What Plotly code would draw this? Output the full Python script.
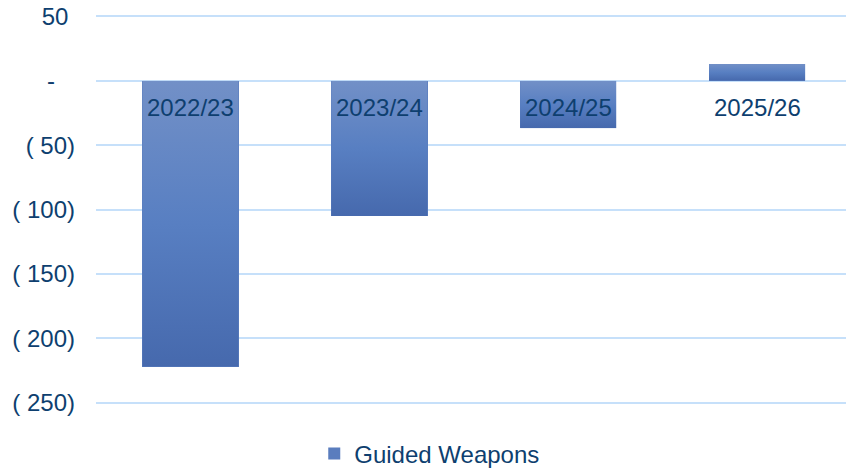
import base64
import plotly.graph_objects as go

# Year-on-year change, Guided Weapons
categories = ["2022/23", "2023/24", "2024/25", "2025/26"]
values = [-222, -105, -37, 13]
series_name = "Guided Weapons"

tick_values = [-250, -200, -150, -100, -50, 0, 50]
tick_labels = ["( 250)", "( 200)", "( 150)", "( 100)", "( 50)",
               "-\u00a0\u00a0\u00a0", "50\u00a0"]

FONT = "Liberation Sans, Arial, sans-serif"
TEXT = "#0E3F6F"
GRID = "#C6E0FA"
BAR = "#5A7DBE"
BAR_WIDTH = 0.51
FS = 24

# vertical gradient used as the bar fill
grad_svg = (
    "<svg xmlns='http://www.w3.org/2000/svg' viewBox='0 0 10 100' "
    "preserveAspectRatio='none'><defs><linearGradient id='g' x1='0' y1='0' "
    "x2='0' y2='1'><stop offset='0' stop-color='#7290C7'/>"
    "<stop offset='0.5' stop-color='#587FC2'/>"
    "<stop offset='1' stop-color='#4669AD'/></linearGradient></defs>"
    "<rect width='10' height='100' fill='url(#g)'/></svg>"
)
grad_src = "data:image/svg+xml;base64," + base64.b64encode(grad_svg.encode()).decode()

xs = list(range(len(categories)))

fig = go.Figure()
fig.add_trace(go.Bar(
    x=xs, y=values, width=BAR_WIDTH, name=series_name,
    marker=dict(color=BAR, line=dict(width=0)),
    showlegend=True,
))

images = []
annotations = []
for i, (cat, v) in enumerate(zip(categories, values)):
    images.append(dict(
        source=grad_src, xref="x", yref="y",
        x=i - BAR_WIDTH / 2, y=max(v, 0),
        sizex=BAR_WIDTH, sizey=abs(v),
        xanchor="left", yanchor="top",
        sizing="stretch", layer="above",
    ))
    annotations.append(dict(
        x=i, y=0, xref="x", yref="y", text=cat, showarrow=False,
        yanchor="top", yshift=-11,
        font=dict(family=FONT, size=FS, color=TEXT),
    ))

fig.update_layout(
    width=846, height=468,
    margin=dict(l=96, r=0, t=15, b=64, autoexpand=False),
    paper_bgcolor="white", plot_bgcolor="white",
    font=dict(family=FONT, size=FS, color=TEXT),
    images=images,
    annotations=annotations,
    showlegend=True,
    legend=dict(
        orientation="h", x=0.291, xanchor="left",
        y=-0.128, yanchor="middle",
        font=dict(family=FONT, size=FS, color=TEXT),
        itemwidth=30,
    ),
    bargap=0,
)
fig.update_xaxes(
    range=[-0.5, 3.47], showticklabels=False, showgrid=False,
    zeroline=False, showline=False, ticks="",
)
fig.update_yaxes(
    range=[-251, 51], tickvals=tick_values, ticktext=tick_labels,
    showgrid=True, gridcolor=GRID, gridwidth=1.5,
    zeroline=False, showline=False, ticks="",
    ticklabelstandoff=20,
    tickfont=dict(family=FONT, size=FS, color=TEXT),
)

fig.write_html("out.html")
